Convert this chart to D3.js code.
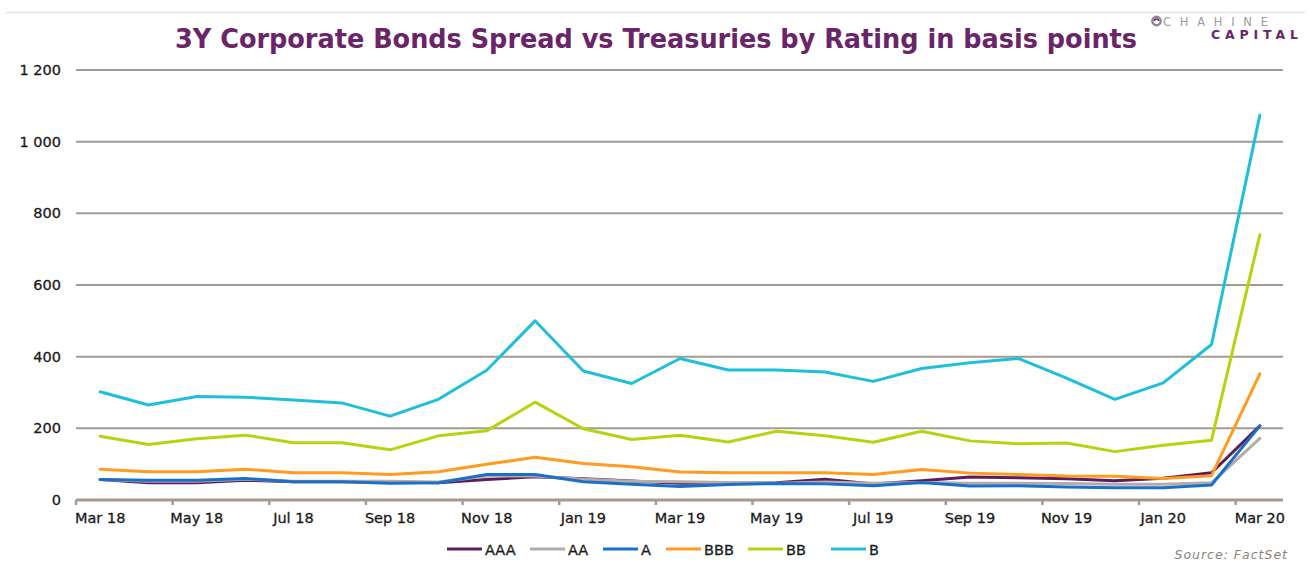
<!DOCTYPE html>
<html>
<head>
<meta charset="utf-8">
<script src="https://cdn.jsdelivr.net/npm/d3@7"></script>
<style>
  html, body { margin: 0; padding: 0; background: #ffffff; }
  svg { display: block; }
</style>
</head>
<body>
<svg id="chart" width="1311" height="562"></svg>
<script>
// Months on the category axis
const months = ["Mar 18","Apr 18","May 18","Jun 18","Jul 18","Aug 18","Sep 18","Oct 18","Nov 18","Dec 18",
  "Jan 19","Feb 19","Mar 19","Apr 19","May 19","Jun 19","Jul 19","Aug 19","Sep 19","Oct 19","Nov 19","Dec 19",
  "Jan 20","Feb 20","Mar 20"];

// Spread vs treasuries, basis points, per rating
const seriesNames = ["AAA", "AA", "A", "BBB", "BB", "B"];
const AAA = [57,48,48,55,51,51,50,48,57,65,59,53,47,47,48,58,45,54,64,62,59,54,61,76,207];
const AA  = [57,52,52,58,52,52,52,50,67,67,58,52,51,49,47,50,47,49,47,47,46,44,44,48,172];
const A   = [57,55,55,60,51,51,47,48,71,71,51,44,38,43,46,45,40,49,39,40,36,34,34,42,207];
const BBB = [86,79,79,86,76,76,71,79,100,119,102,93,78,76,76,76,71,85,75,71,67,66,60,68,352];
const BB  = [178,155,171,181,160,160,140,179,193,273,199,169,181,162,192,179,161,192,165,157,159,135,153,167,740];
const B   = [302,265,289,287,279,271,234,281,362,500,360,325,395,363,363,357,331,367,383,395,340,281,327,434,1074];

const seriesColors = ["#5a1e5c", "#b3aca8", "#1c6fc9", "#ff9b1e", "#b7d30f", "#1fbfdb"];
const yTicks = [0, 200, 400, 600, 800, 1000, 1200];
const xTickLabels = ["Mar 18","May 18","Jul 18","Sep 18","Nov 18","Jan 19","Mar 19","May 19","Jul 19","Sep 19","Nov 19","Jan 20","Mar 20"];

const titleText = "3Y Corporate Bonds Spread vs Treasuries by Rating in basis points";
const sourceText = "Source: FactSet";

const allSeries = [AAA, AA, A, BBB, BB, B];

const svg = d3.select("#chart");
const font = "'DejaVu Sans', Verdana, sans-serif";
const gridColor = "#a59a92";

const plot = { left: 76, right: 1284, top: 70, bottom: 500 };

const x = d3.scaleBand().domain(months).range([plot.left, plot.right]).padding(0);
const y = d3.scaleLinear().domain([0, 1200]).range([plot.bottom, plot.top]);

const fmt = d3.formatLocale({ decimal: ".", thousands: " ", grouping: [3], currency: ["", ""] }).format(",d");

// thin rule along the top of the slide
svg.append("line")
  .attr("x1", 6).attr("x2", 1305).attr("y1", 12.5).attr("y2", 12.5)
  .attr("stroke", "#e2e2e2").attr("stroke-width", 1.5);

// title
const title = svg.append("text")
  .attr("x", 175).attr("y", 48)
  .attr("font-family", font).attr("font-weight", "bold")
  .attr("font-size", 26).attr("fill", "#6a2468")
  .text(titleText);
const tw = title.node().getComputedTextLength();
if (tw > 962) title.attr("textLength", 962).attr("lengthAdjust", "spacingAndGlyphs");

// brand mark
const logo = svg.append("g");
logo.append("circle").attr("cx", 1156.5).attr("cy", 21).attr("r", 4.2)
  .attr("fill", "none").attr("stroke", "#8d8590").attr("stroke-width", 2.4);
logo.append("path").attr("d", "M1154.5,21 a2,2 0 0 1 4,0").attr("fill", "none")
  .attr("stroke", "#6a2468").attr("stroke-width", 1.6);
logo.append("text").attr("x", 1163).attr("y", 26)
  .attr("font-family", font).attr("font-size", 11.5).attr("fill", "#a09aa0")
  .attr("textLength", 105).attr("lengthAdjust", "spacing")
  .text("CHAHINE");
logo.append("text").attr("x", 1211).attr("y", 38.5)
  .attr("font-family", font).attr("font-weight", "bold").attr("font-size", 12.5).attr("fill", "#6a2468")
  .attr("textLength", 87).attr("lengthAdjust", "spacing")
  .text("CAPITAL");

// horizontal gridlines
const yAxis = d3.axisLeft(y).tickValues(yTicks).tickSize(0).tickPadding(0).tickFormat(fmt);
const yg = svg.append("g").attr("transform", `translate(${plot.left - 15},0)`).call(yAxis);
yg.select(".domain").remove();
yg.selectAll("text")
  .attr("font-family", font).attr("font-size", 14.5).attr("fill", "#1a1a1a")
  .attr("stroke", "#1a1a1a").attr("stroke-width", 0.3);

svg.append("g").selectAll("line")
  .data(yTicks.filter(d => d > 0))
  .join("line")
  .attr("x1", plot.left).attr("x2", plot.right - 1)
  .attr("y1", d => y(d)).attr("y2", d => y(d))
  .attr("stroke", gridColor).attr("stroke-width", 2);

// category axis: ticks on month boundaries, labels at month centres
const xg = svg.append("g").attr("transform", `translate(0,${plot.bottom})`);
xg.append("line").attr("x1", plot.left).attr("x2", plot.right - 1)
  .attr("y1", 0).attr("y2", 0).attr("stroke", gridColor).attr("stroke-width", 3);
xg.selectAll("line.tk")
  .data(xTickLabels)
  .join("line").attr("class", "tk")
  .attr("x1", d => x(d)).attr("x2", d => x(d))
  .attr("y1", 0).attr("y2", 5)
  .attr("stroke", gridColor).attr("stroke-width", 2.5);
xg.selectAll("text")
  .data(xTickLabels)
  .join("text")
  .attr("x", d => x(d) + x.bandwidth() / 2)
  .attr("y", 23)
  .attr("text-anchor", "middle")
  .attr("font-family", font).attr("font-size", 14.5).attr("fill", "#1a1a1a")
  .attr("stroke", "#1a1a1a").attr("stroke-width", 0.3)
  .text(d => d);

// series lines
const line = d3.line()
  .x((d, i) => x(months[i]) + x.bandwidth() / 2)
  .y(d => y(d));

svg.append("g").selectAll("path")
  .data(allSeries)
  .join("path")
  .attr("d", d => line(d))
  .attr("fill", "none")
  .attr("stroke", (d, i) => seriesColors[i])
  .attr("stroke-width", 3)
  .attr("stroke-linejoin", "round")
  .attr("stroke-linecap", "round");

// legend
const legendX = [447, 530, 603, 666, 748, 831];
const lg = svg.append("g").attr("transform", "translate(0,549)");
const items = lg.selectAll("g").data(seriesNames).join("g")
  .attr("transform", (d, i) => `translate(${legendX[i]},0)`);
items.append("line").attr("x1", 0).attr("x2", 35).attr("y1", 0).attr("y2", 0)
  .attr("stroke", (d, i) => seriesColors[i]).attr("stroke-width", 3);
items.append("text").attr("x", 38).attr("y", 5.5)
  .attr("font-family", font).attr("font-size", 14.5).attr("fill", "#1a1a1a")
  .attr("stroke", "#1a1a1a").attr("stroke-width", 0.3)
  .text(d => d);

// source note
svg.append("text")
  .attr("x", 1288).attr("y", 559).attr("text-anchor", "end")
  .attr("font-family", font).attr("font-style", "italic").attr("font-size", 12.5)
  .attr("letter-spacing", 1).attr("fill", "#8c827c")
  .text(sourceText);
</script>
</body>
</html>
